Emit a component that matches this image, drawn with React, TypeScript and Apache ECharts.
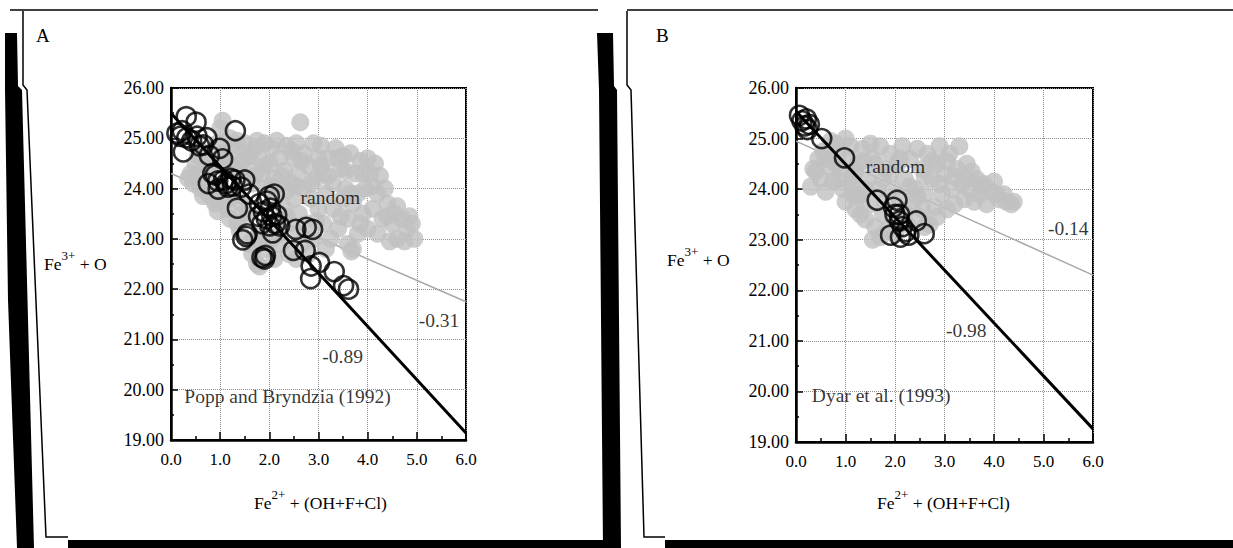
import React, { useEffect, useRef } from "react";
import * as echarts from "echarts";

// ---------- data ----------
const xTickValues = [0, 1, 2, 3, 4, 5, 6];
const yTickValues = [19, 20, 21, 22, 23, 24, 25, 26];

// Panel A – Popp and Bryndzia (1992): measured (open circles)
const poppMeasured: number[][] = [
  [0.31, 25.43], [0.51, 25.32], [0.23, 25.15], [0.32, 25.01], [0.19, 25.04], [0.53, 25.04],
  [0.25, 24.73], [0.66, 24.87], [0.73, 25.01], [0.78, 24.66], [0.99, 24.8], [1.31, 25.15],
  [1.05, 24.59], [0.76, 24.1], [0.9, 24.27], [1.07, 24.17], [0.96, 23.99], [1.3, 24.17],
  [1.43, 24.03], [1.5, 24.17], [1.16, 24.03], [1.35, 23.61], [1.59, 23.89], [1.53, 23.05],
  [1.46, 22.98], [1.85, 22.63], [1.92, 22.67], [1.88, 23.54], [2.02, 23.61], [2.1, 23.89],
  [1.94, 23.4], [2.15, 23.47], [2.01, 23.26], [2.21, 23.26], [2.07, 23.12], [2.54, 23.19],
  [2.75, 23.23], [2.88, 23.19], [2.49, 22.77], [2.73, 22.77], [2.85, 22.46], [3.02, 22.53],
  [2.84, 22.21], [3.32, 22.35], [3.51, 22.07], [3.61, 22.0],
  [0.12, 25.1], [0.42, 24.95], [0.58, 24.85], [0.95, 24.15], [1.12, 24.1], [1.22, 24.2],
  [1.8, 23.7], [1.95, 23.75], [2.05, 23.45], [1.85, 23.3], [2.12, 23.3], [1.78, 23.45],
  [1.55, 23.1], [1.9, 22.6], [1.25, 24.05], [0.85, 24.3], [2.0, 23.85],
];

// Panel A – random distribution (grey dots)
const poppRandom: number[][] = [
  [0.35, 24.2], [0.45, 24.1], [0.55, 24.3], [0.5, 24.5], [0.6, 24.0], [0.65, 23.85], [0.4, 24.3], [0.55, 24.65],
  [0.75, 24.6], [0.8, 24.4], [0.85, 23.8], [0.9, 23.7], [0.95, 24.9], [1.0, 25.2], [0.75, 23.9], [0.9, 24.55],
  [1.0, 24.0], [0.95, 23.55], [1.05, 24.7], [1.1, 24.4], [1.15, 23.6], [1.2, 23.4], [1.25, 24.85], [1.3, 24.6],
  [1.35, 23.3], [1.4, 24.3], [1.45, 23.7], [1.5, 24.9], [1.1, 23.8], [1.3, 23.9], [1.45, 24.55], [1.2, 25.0],
  [1.4, 23.15], [1.55, 24.7], [1.6, 24.4], [1.6, 22.9], [1.65, 24.1], [1.7, 23.0], [1.7, 24.8], [1.75, 22.5],
  [1.8, 24.6], [1.85, 24.3], [1.9, 22.8], [1.9, 24.9], [1.95, 24.0], [2.0, 24.5], [1.55, 23.5], [1.65, 22.7],
  [1.8, 22.45], [1.75, 24.95], [2.05, 24.8], [2.1, 24.2], [2.1, 22.6], [2.15, 23.9], [2.2, 24.6], [2.25, 22.9],
  [2.3, 24.35], [2.3, 23.6], [2.35, 24.85], [2.4, 23.3], [2.45, 24.1], [2.5, 24.6], [2.2, 23.1], [2.4, 22.7],
  [2.5, 23.8], [2.15, 24.95], [2.55, 24.9], [2.6, 24.3], [2.6, 23.5], [2.65, 22.9], [2.7, 24.0], [2.7, 24.7],
  [2.75, 23.3], [2.8, 24.45], [2.85, 23.8], [2.9, 24.9], [2.9, 23.0], [2.95, 24.2], [3.0, 23.6], [2.55, 22.6],
  [2.8, 22.7], [3.0, 24.6], [3.05, 24.85], [3.1, 24.3], [3.1, 23.3], [3.15, 23.9], [3.2, 24.6], [3.25, 23.0],
  [3.3, 24.1], [3.3, 23.6], [3.35, 24.8], [3.4, 23.2], [3.45, 24.4], [3.5, 23.8], [3.15, 22.8], [3.5, 24.65],
  [3.55, 24.0], [3.6, 23.4], [3.65, 24.7], [3.7, 23.7], [3.7, 22.8], [3.75, 24.3], [3.8, 23.1], [3.85, 24.55],
  [3.9, 23.5], [3.95, 24.0], [4.0, 23.2], [3.6, 22.9], [3.8, 23.9], [4.0, 24.6], [4.05, 24.3], [4.1, 23.6],
  [4.15, 24.5], [4.2, 23.9], [4.2, 23.1], [4.3, 23.4], [4.35, 24.0], [4.4, 23.7], [4.5, 23.3], [4.55, 23.5],
  [4.6, 23.0], [4.7, 23.4], [4.8, 23.2], [4.9, 23.3], [4.95, 23.0], [4.45, 22.95], [4.75, 22.95],
  [2.63, 25.32], [3.67, 22.75], [1.05, 25.35],
  [0.6, 24.75], [0.7, 24.2], [1.25, 24.45], [1.35, 24.95], [1.6, 24.65], [1.7, 24.25], [1.9, 24.45], [2.05, 24.05],
  [2.25, 24.25], [2.35, 23.95], [2.45, 24.75], [2.55, 24.05], [2.65, 24.55], [2.85, 24.1], [3.05, 24.45], [3.2, 24.25],
  [3.4, 24.6], [3.55, 24.35], [3.65, 23.9], [3.9, 24.3], [4.1, 24.05], [4.25, 24.25], [4.4, 23.45], [4.6, 23.65],
  [4.85, 23.45], [2.95, 23.35], [3.45, 23.45], [3.85, 23.3], [2.6, 23.1], [2.35, 23.45], [2.0, 22.95], [1.8, 23.1],
  [1.45, 23.5], [1.2, 23.8], [1.1, 24.6],
];

// Panel B – Dyar et al. (1993): measured (open circles)
const dyarMeasured: number[][] = [
  [0.07, 25.46], [0.21, 25.39], [0.27, 25.28], [0.23, 25.18], [0.12, 25.35], [0.18, 25.25],
  [0.52, 25.0], [0.98, 24.62], [1.64, 23.78], [2.04, 23.78], [1.97, 23.64], [2.0, 23.5],
  [2.09, 23.37], [1.91, 23.09], [2.22, 23.16], [2.43, 23.37], [2.59, 23.12], [2.15, 23.26],
  [2.28, 23.09], [2.11, 23.05], [2.09, 23.5],
];

// Panel B – random distribution (grey dots)
const dyarRandom: number[][] = [
  [0.3, 24.05], [0.35, 24.4], [0.45, 24.6], [0.55, 24.75], [0.7, 24.95], [0.5, 24.2], [0.65, 24.45], [0.75, 24.15],
  [0.6, 23.95], [0.85, 24.7], [0.9, 24.4], [0.95, 24.0], [1.0, 23.75], [1.05, 24.6], [1.1, 24.85], [1.15, 24.25],
  [1.2, 23.6], [1.25, 24.5], [1.3, 23.9], [1.35, 24.8], [1.4, 23.4], [1.45, 24.2], [1.5, 23.7], [1.55, 24.6],
  [1.6, 23.25], [1.65, 24.0], [1.7, 24.85], [1.75, 23.5], [1.8, 24.4], [1.85, 23.2], [1.9, 24.7], [1.95, 24.0],
  [2.0, 23.4], [2.05, 24.5], [2.1, 23.8], [2.15, 24.85], [2.2, 24.2], [2.25, 23.3], [2.3, 24.6], [2.35, 23.7],
  [2.4, 24.0], [2.45, 24.8], [2.5, 23.45], [2.55, 24.4], [2.6, 23.9], [2.65, 24.7], [2.7, 23.3], [2.75, 24.2],
  [2.8, 23.65], [2.85, 24.5], [2.9, 24.85], [2.95, 23.9], [3.0, 24.3], [3.05, 23.6], [3.1, 24.7], [3.15, 24.0],
  [3.2, 23.7], [3.25, 24.4], [3.3, 24.85], [3.35, 24.1], [3.4, 23.8], [3.45, 24.5], [3.5, 24.0], [3.6, 23.75],
  [3.65, 24.2], [3.7, 23.9], [3.8, 24.1], [3.85, 23.7], [3.95, 23.95], [4.0, 24.15], [4.1, 23.8], [4.2, 23.9],
  [4.35, 23.7], [4.4, 23.75], [1.3, 23.5], [1.5, 24.9], [2.0, 23.1], [1.55, 23.0], [1.7, 23.05], [2.6, 23.25],
  [0.8, 24.9], [1.0, 25.0],
  [0.4, 24.35], [0.6, 24.6], [0.8, 24.5], [0.85, 24.2], [1.1, 24.1], [1.2, 24.35], [1.35, 24.55], [1.4, 24.0],
  [1.6, 24.5], [1.75, 24.2], [1.8, 23.75], [1.9, 24.3], [2.1, 24.6], [2.3, 24.05], [2.45, 23.85], [2.6, 24.25],
  [2.75, 24.55], [2.9, 24.1], [3.05, 24.55], [3.2, 24.25], [3.45, 24.2], [3.55, 24.35], [3.75, 24.05], [4.05, 23.9],
  [4.25, 23.75], [1.25, 23.85], [1.15, 23.9], [2.2, 23.55], [2.55, 23.6], [2.85, 23.45],
];

// Regression lines
const poppMeasuredFit: number[][] = [[0, 25.5], [6, 19.14]];
const poppRandomFit: number[][] = [[0, 24.3], [6, 21.75]];
const dyarMeasuredFit: number[][] = [[0, 25.54], [6, 19.26]];
const dyarRandomFit: number[][] = [[0, 24.95], [6, 22.3]];

// Annotation labels (placed in data coordinates)
const poppNotes = [
  { name: "random", value: [3.24, 23.82] },
  { name: "-0.31", value: [5.45, 21.37] },
  { name: "-0.89", value: [3.49, 20.67] },
  { name: "Popp and Bryndzia (1992)", value: [2.37, 19.87] },
];
const dyarNotes = [
  { name: "random", value: [2.01, 24.45] },
  { name: "-0.14", value: [5.5, 23.22] },
  { name: "-0.98", value: [3.44, 21.2] },
  { name: "Dyar et al. (1993)", value: [1.72, 19.92] },
];

const FONT = "'Liberation Serif', 'Times New Roman', Times, serif";

export default function App() {
  const ref = useRef<HTMLDivElement>(null);

  useEffect(() => {
    if (!ref.current) return;
    const chart = echarts.init(ref.current, undefined, { renderer: "svg" });

    const grids = [
      { left: 171, top: 88, width: 295, height: 352 },
      { left: 796, top: 88, width: 297, height: 354 },
    ];

    const makeX = (gi: number) => ({
      type: "value",
      gridIndex: gi,
      min: xTickValues[0],
      max: xTickValues[xTickValues.length - 1],
      interval: 1,
      axisLine: { show: true, onZero: false, lineStyle: { color: "#000", width: 2.5 } },
      axisTick: { show: true, inside: true, length: 8, lineStyle: { color: "#000", width: 1.5 } },
      minorTick: { show: true, splitNumber: 2, length: 4, lineStyle: { color: "#000", width: 1.5 } },
      splitLine: { show: true, lineStyle: { color: "#8c8c8c", type: "dotted", width: 1 } },
      axisLabel: {
        color: "#000",
        fontFamily: FONT,
        fontSize: 17,
        margin: 11,
        formatter: (v: number) => v.toFixed(1),
      },
    });
    const makeY = (gi: number) => ({
      type: "value",
      gridIndex: gi,
      min: yTickValues[0],
      max: yTickValues[yTickValues.length - 1],
      interval: 1,
      axisLine: { show: true, onZero: false, lineStyle: { color: "#000", width: 2.5 } },
      axisTick: { show: true, inside: true, length: 7, lineStyle: { color: "#000", width: 1.5 } },
      minorTick: { show: true, splitNumber: 2, length: 3, lineStyle: { color: "#000", width: 1.5 } },
      splitLine: { show: true, lineStyle: { color: "#8c8c8c", type: "dotted", width: 1 } },
      axisLabel: {
        color: "#000",
        fontFamily: FONT,
        fontSize: 18,
        margin: 7,
        formatter: (v: number) => v.toFixed(2),
      },
    });

    const lineSeries = (data: number[][], gi: number, color: string, width: number, z: number) => ({
      type: "line",
      xAxisIndex: gi,
      yAxisIndex: gi,
      data,
      symbol: "none",
      silent: true,
      z,
      lineStyle: { color, width },
    });
    const randomSeries = (data: number[][], gi: number) => ({
      type: "scatter",
      xAxisIndex: gi,
      yAxisIndex: gi,
      data,
      symbol: "circle",
      symbolSize: 18,
      silent: true,
      z: 2,
      itemStyle: { color: "#c0c0c0" },
    });
    const measuredSeries = (data: number[][], gi: number) => ({
      type: "scatter",
      xAxisIndex: gi,
      yAxisIndex: gi,
      data,
      symbol: "circle",
      symbolSize: 19,
      silent: true,
      z: 4,
      itemStyle: { color: "rgba(0,0,0,0)", borderColor: "#000", borderWidth: 2.6 },
    });
    const noteSeries = (data: any[], gi: number) => ({
      type: "scatter",
      xAxisIndex: gi,
      yAxisIndex: gi,
      data,
      symbolSize: 1,
      silent: true,
      z: 6,
      itemStyle: { color: "rgba(0,0,0,0)" },
      label: {
        show: true,
        position: "inside",
        formatter: "{b}",
        color: "#000",
        fontFamily: FONT,
        fontSize: 19.5,
      },
    });

    const supRich = {
      n: { fontFamily: FONT, fontSize: 17.5, color: "#000", lineHeight: 24, verticalAlign: "bottom" },
      s: { fontFamily: FONT, fontSize: 13, color: "#000", lineHeight: 13, verticalAlign: "top" },
    };
    const titleStyle = (text: string) => ({
      text,
      rich: supRich,
      fill: "#000",
      fontFamily: FONT,
      fontSize: 17.5,
    });

    const frame: any[] = [
      // panel A frame pieces (scan borders)
      { type: "line", shape: { x1: 10, y1: 10, x2: 598, y2: 10 }, style: { stroke: "#000", lineWidth: 1.5 } },
      {
        type: "polygon",
        shape: { points: [[5, 33], [17, 33], [18, 86], [22, 90], [34, 548], [17, 548], [8, 300], [5, 90]] },
        style: { fill: "#000" },
      },
      {
        type: "polyline",
        shape: { points: [[23, 11], [23, 85], [27, 90], [46, 537], [68, 537]] },
        style: { stroke: "#000", lineWidth: 1.5, fill: null },
      },
      { type: "rect", shape: { x: 68, y: 540, width: 540, height: 8 }, style: { fill: "#000" } },
      // separator between panels
      {
        type: "polygon",
        shape: { points: [[597, 33], [613, 33], [614, 86], [617, 90], [621, 548], [603, 548], [599, 90]] },
        style: { fill: "#000" },
      },
      // panel B frame pieces
      { type: "line", shape: { x1: 627, y1: 10, x2: 1233, y2: 10 }, style: { stroke: "#000", lineWidth: 1.5 } },
      {
        type: "polyline",
        shape: { points: [[627, 11], [627, 85], [631, 90], [644, 537], [665, 537]] },
        style: { stroke: "#000", lineWidth: 1.5, fill: null },
      },
      { type: "rect", shape: { x: 665, y: 540, width: 568, height: 8 }, style: { fill: "#000" } },
      // panel letters
      { type: "text", x: 36, y: 26, style: { text: "A", fontFamily: FONT, fontSize: 19, fill: "#000" } },
      { type: "text", x: 656, y: 26, style: { text: "B", fontFamily: FONT, fontSize: 19, fill: "#000" } },
      // axis titles
      { type: "text", x: 44, y: 249, style: titleStyle("{n|Fe}{s|3+}{n| + O}") },
      { type: "text", x: 667, y: 245, style: titleStyle("{n|Fe}{s|3+}{n| + O}") },
      { type: "text", x: 254, y: 488, style: titleStyle("{n|Fe}{s|2+}{n| + (OH+F+Cl)}") },
      { type: "text", x: 877, y: 488, style: titleStyle("{n|Fe}{s|2+}{n| + (OH+F+Cl)}") },
    ];

    chart.setOption({
      animation: false,
      backgroundColor: "#fff",
      textStyle: { fontFamily: FONT, color: "#000" },
      grid: grids.map((g) => ({ ...g, show: true, borderColor: "#000", borderWidth: 2, backgroundColor: "transparent" })),
      xAxis: [makeX(0), makeX(1)],
      yAxis: [makeY(0), makeY(1)],
      series: [
        lineSeries(poppRandomFit, 0, "#a8a8a8", 1.5, 1),
        randomSeries(poppRandom, 0),
        lineSeries(poppMeasuredFit, 0, "#000", 3, 3),
        measuredSeries(poppMeasured, 0),
        noteSeries(poppNotes, 0),
        lineSeries(dyarRandomFit, 1, "#a8a8a8", 1.5, 1),
        randomSeries(dyarRandom, 1),
        lineSeries(dyarMeasuredFit, 1, "#000", 3, 3),
        measuredSeries(dyarMeasured, 1),
        noteSeries(dyarNotes, 1),
      ],
      graphic: frame,
    });

    return () => chart.dispose();
  }, []);

  return (
    <div
      ref={ref}
      style={{ position: "absolute", left: 0, top: 0, width: 1233, height: 548, background: "#fff" }}
    />
  );
}
